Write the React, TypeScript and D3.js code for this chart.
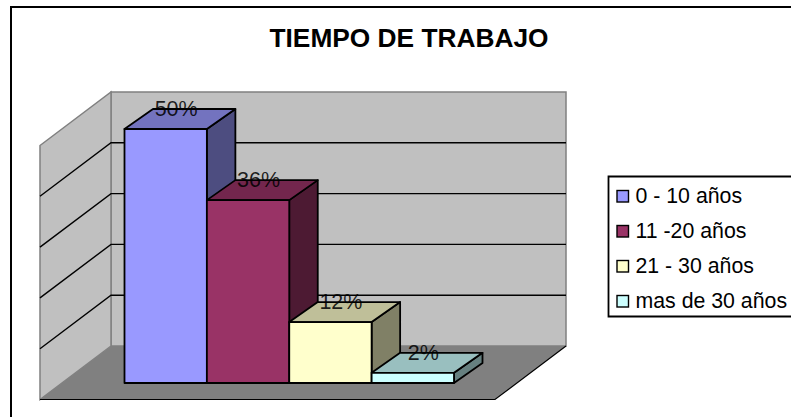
import React from "react";
import * as d3 from "d3";

const categories = ["0 - 10 años", "11 -20 años", "21 - 30 años", "mas de 30 años"];
const values = [50, 36, 12, 2];
const valueLabels = ["50%", "36%", "12%", "2%"];
const ticks = [0, 10, 20, 30, 40, 50];
const frontColors = ["#9999ff", "#993366", "#ffffcc", "#ccffff"];
const topColors = ["#7373bf", "#73264d", "#bfbf99", "#99bfbf"];
const sideColors = ["#4d4d80", "#4d1a33", "#808066", "#668080"];
const title = "TIEMPO DE TRABAJO";

const FONT = "'Liberation Sans', Arial, sans-serif";

const x = d3.scaleBand<number>().domain([0, 1, 2, 3]).range([124.5, 454]).padding(0);
const backY = d3.scaleLinear().domain([0, 50]).range([346, 92]);
const frontY = d3.scaleLinear().domain([0, 50]).range([383, 129]);
const wallDX = 71;
const wallDY = 53.5;
const barDX = 28.5;
const barDY = 20;
const wallLeft = 40;
const wallRight = 566;
const legendY = d3.scalePoint<number>().domain([0, 1, 2, 3]).range([196, 301]);

const poly = (pts: [number, number][]) => d3.line()(pts) + "Z";

export default function App() {
  const backLeft = wallLeft + wallDX;
  return (
    <svg width={791} height={417} style={{ position: "absolute", left: 0, top: 0, background: "#fff" }}>
      {/* outer frame */}
      <path d="M791 7H11V417" fill="none" stroke="#000" strokeWidth={2} />
      <text x={409} y={46.5} textAnchor="middle" fontFamily={FONT} fontWeight="bold" fontSize={26.3} fill="#000">
        {title}
      </text>

      {/* walls */}
      <path
        d={poly([[wallLeft, backY(0) + wallDY], [backLeft, backY(0)], [wallRight, backY(0)], [wallRight - wallDX, backY(0) + wallDY]])}
        fill="#808080"
      />
      <path
        d={poly([[backLeft, backY(50)], [wallRight, backY(50)], [wallRight, backY(0)], [backLeft, backY(0)]])}
        fill="#c0c0c0"
        stroke="#808080"
        strokeWidth={1.5}
      />
      <path
        d={poly([[wallLeft, backY(50) + wallDY], [backLeft, backY(50)], [backLeft, backY(0)], [wallLeft, backY(0) + wallDY]])}
        fill="#c0c0c0"
        stroke="#808080"
        strokeWidth={1.5}
      />
      <path d={`M${wallLeft} ${backY(0) + wallDY}H${wallRight - wallDX}L${wallRight} ${backY(0)}`} fill="none" stroke="#000" strokeWidth={1.2} />

      {/* grid */}
      {ticks.slice(1, -1).map((t) => (
        <path
          key={t}
          d={`M${wallLeft} ${backY(t) + wallDY}L${backLeft} ${backY(t)}H${wallRight}`}
          fill="none"
          stroke="#000"
          strokeWidth={1.4}
        />
      ))}

      {/* bars */}
      {values.map((v, i) => {
        const x0 = x(i)!;
        const x1 = x0 + x.bandwidth();
        const top = frontY(v);
        const bottom = frontY(0);
        return (
          <g key={i} stroke="#000" strokeWidth={1.8} strokeLinejoin="round">
            <path d={poly([[x1, top], [x1 + barDX, top - barDY], [x1 + barDX, bottom - barDY], [x1, bottom]])} fill={sideColors[i]} />
            <path d={poly([[x0, top], [x0 + barDX, top - barDY], [x1 + barDX, top - barDY], [x1, top]])} fill={topColors[i]} />
            <rect x={x0} y={top} width={x1 - x0} height={bottom - top} fill={frontColors[i]} />
          </g>
        );
      })}
      {values.map((v, i) => (
        <text
          key={i}
          x={x(i)! + x.bandwidth() / 2 + 10.5}
          y={frontY(v) - 13}
          textAnchor="middle"
          fontFamily={FONT}
          fontSize={21.5}
          fill="#000"
          fillOpacity={0.85}
        >
          {valueLabels[i]}
        </text>
      ))}

      {/* legend */}
      <path d="M791 176.5H608.5V316.5H791" fill="#fff" stroke="#000" strokeWidth={1.8} />
      {categories.map((c, i) => (
        <g key={c}>
          <rect x={617} y={legendY(i)! - 5.5} width={11.5} height={11.5} fill={frontColors[i]} stroke="#000" strokeWidth={1.4} />
          <text x={635.5} y={legendY(i)! + 7} fontFamily={FONT} fontSize={21.3} fill="#000">
            {c}
          </text>
        </g>
      ))}
    </svg>
  );
}
